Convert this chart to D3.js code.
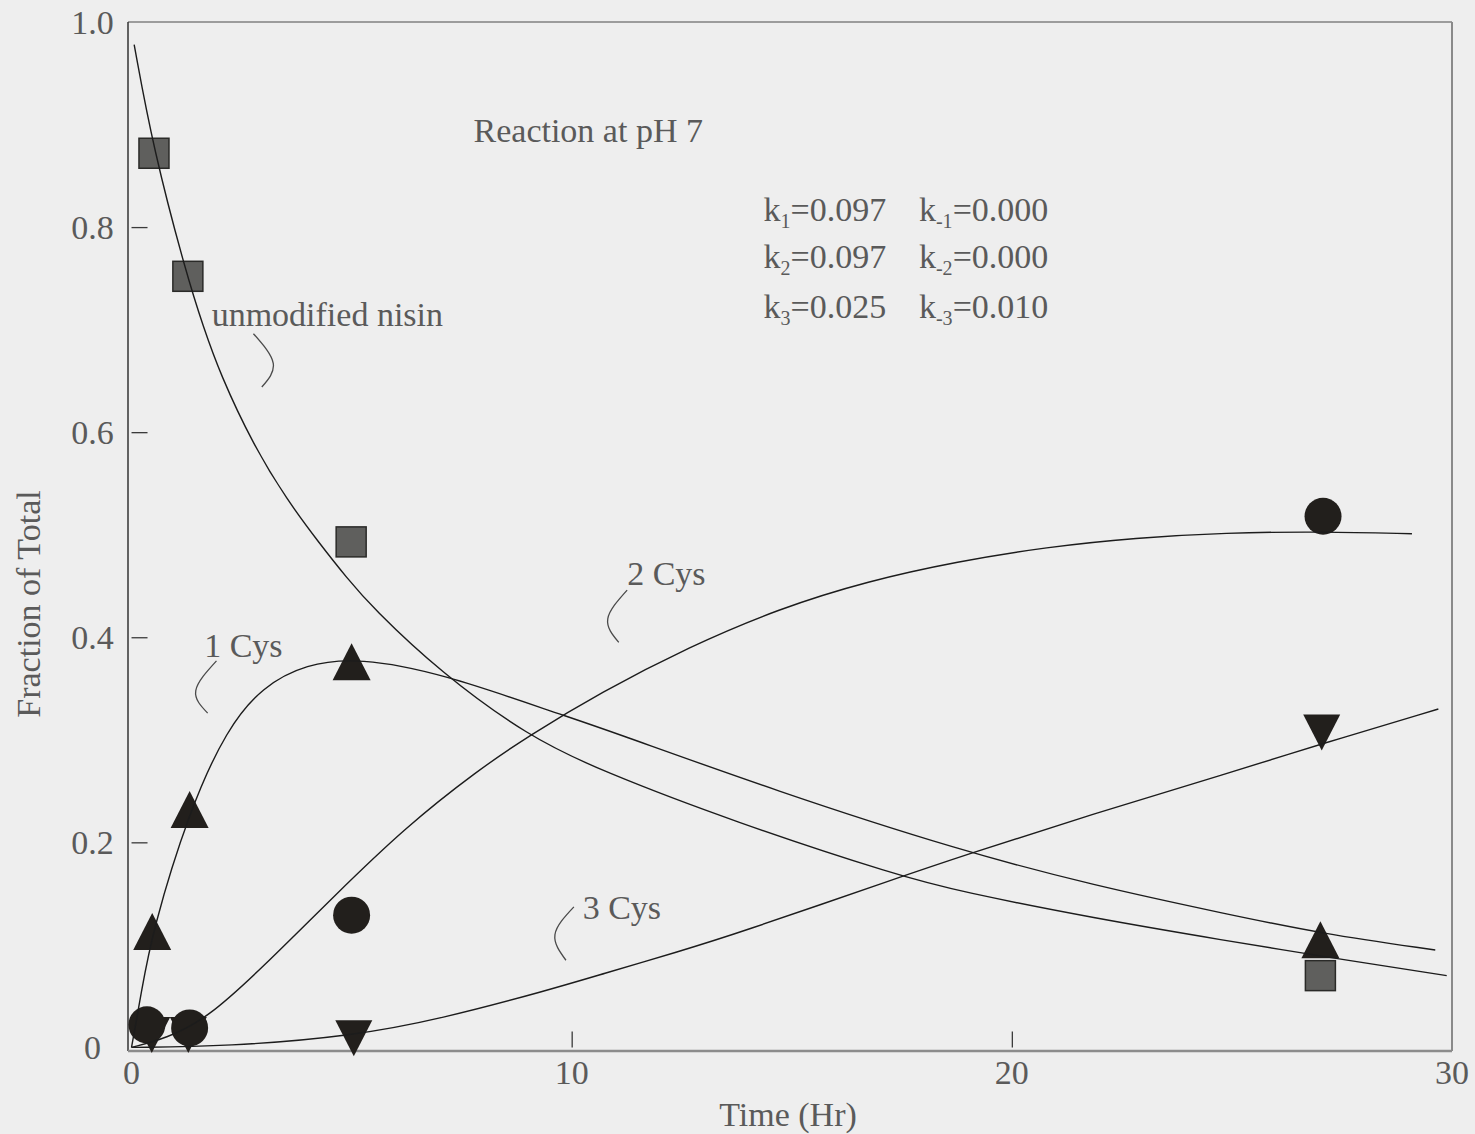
<!DOCTYPE html>
<html>
<head>
<meta charset="utf-8">
<script src="https://cdn.jsdelivr.net/npm/d3@7"></script>
<style>
  html, body { margin: 0; padding: 0; background: #eeeeee; }
  svg { display: block; font-family: "Liberation Serif", "Times New Roman", serif; }
</style>
</head>
<body>
<svg id="chart" width="1475" height="1134"></svg>
<script>
// axis ticks
const xTicks = [0, 10, 20, 30];
const yTicks = [0, 0.2, 0.4, 0.6, 0.8, 1.0];
const yTickLabels = ["0", "0.2", "0.4", "0.6", "0.8", "1.0"];

// fitted model curves
const unmodCurveT = [0.06, 0.49, 1.26, 1.63, 2.01, 2.76, 3.53, 4.28, 4.89, 5.47, 7.04, 9.03, 10.65, 13.69, 17.45, 18.83, 21.86, 24.89, 27.03, 29.88];
const unmodCurveV = [0.978, 0.877, 0.752, 0.703, 0.657, 0.588, 0.534, 0.491, 0.458, 0.429, 0.365, 0.303, 0.270, 0.220, 0.167, 0.152, 0.126, 0.104, 0.089, 0.070];

const cys1CurveT = [0.0, 0.22, 0.47, 1.32, 2.17, 2.98, 3.96, 5.17, 7.04, 9.72, 10.65, 14.71, 18.83, 21.86, 24.89, 27.03, 29.62];
const cys1CurveV = [0.0, 0.053, 0.113, 0.232, 0.311, 0.352, 0.374, 0.380, 0.365, 0.325, 0.312, 0.249, 0.192, 0.158, 0.130, 0.111, 0.095];

const cys2CurveT = [0.0, 0.80, 1.71, 2.98, 4.61, 6.23, 7.86, 9.03, 10.65, 12.68, 14.71, 16.74, 18.77, 20.79, 22.82, 24.85, 27.05, 29.09];
const cys2CurveV = [0.0, 0.009, 0.028, 0.078, 0.148, 0.215, 0.270, 0.304, 0.346, 0.391, 0.428, 0.455, 0.474, 0.488, 0.497, 0.502, 0.503, 0.501];

const cys3CurveT = [0.0, 2.17, 5.01, 7.04, 9.48, 10.65, 12.47, 13.69, 17.45, 18.83, 21.86, 24.89, 27.03, 29.69];
const cys3CurveV = [0.0, 0.001, 0.011, 0.028, 0.056, 0.071, 0.094, 0.110, 0.166, 0.186, 0.228, 0.267, 0.296, 0.330];

// measured points
const unmodPtsT = [0.51, 1.28, 4.99, 27.01];
const unmodPtsV = [0.872, 0.752, 0.493, 0.070];
const cys1PtsT = [0.47, 1.32, 5.00, 27.01];
const cys1PtsV = [0.113, 0.232, 0.376, 0.105];
const cys2PtsT = [0.35, 1.32, 5.00, 27.07];
const cys2PtsV = [0.022, 0.019, 0.129, 0.518];
const cys3PtsT = [0.46, 1.29, 5.05, 27.04];
const cys3PtsV = [0.012, 0.012, 0.009, 0.307];

// rate constants
const rateNames = [["1", "-1"], ["2", "-2"], ["3", "-3"]];
const rateFwd = ["0.097", "0.097", "0.025"];
const rateRev = ["0.000", "0.000", "0.010"];

const svg = d3.select("#chart");

const x = d3.scaleLinear().domain([-0.08, 30]).range([128, 1452]);
const y = d3.scaleLinear().domain([-0.0035, 1]).range([1051, 22]);

const textColor = "#5a5a5a";
const markColor = "#221f1c";

const zip = (ts, vs) => ts.map((t, i) => [t, vs[i]]);

// frame
const [x0, x1] = x.range();
const [yb, yt] = y.range();
svg.append("line").attr("x1", x0).attr("x2", x1).attr("y1", yt).attr("y2", yt)
  .attr("stroke", "#4a4a4a").attr("stroke-width", 1.2);
svg.append("line").attr("x1", x1).attr("x2", x1).attr("y1", yt).attr("y2", yb)
  .attr("stroke", "#8a8a8a").attr("stroke-width", 2);
svg.append("line").attr("x1", x0).attr("x2", x0).attr("y1", yt).attr("y2", yb)
  .attr("stroke", "#333").attr("stroke-width", 1.5);
svg.append("line").attr("x1", x0).attr("x2", x1).attr("y1", yb).attr("y2", yb)
  .attr("stroke", "#8c8c8c").attr("stroke-width", 2.5);

// inward ticks starting from the data origin
const yAxis = svg.append("g")
  .attr("transform", `translate(${x(0)},0)`)
  .call(d3.axisRight(y).tickValues(yTicks.filter(v => v > 0 && v < 1)).tickSize(16).tickFormat(""));
yAxis.select(".domain").remove();
yAxis.selectAll(".tick line").attr("stroke", "#3a3a3a").attr("stroke-width", 1.3);

const xAxis = svg.append("g")
  .attr("transform", `translate(0,${y(0)})`)
  .call(d3.axisTop(x).tickValues(xTicks.filter(v => v > 0 && v < 30)).tickSize(16).tickFormat(""));
xAxis.select(".domain").remove();
xAxis.selectAll(".tick line").attr("stroke", "#3a3a3a").attr("stroke-width", 1.3);

// tick labels
svg.append("g").selectAll("text")
  .data(yTicks)
  .join("text")
  .attr("x", x(0) - 39)
  .attr("y", d => y(d))
  .attr("dy", "0.35em")
  .attr("text-anchor", "middle")
  .attr("font-size", 34)
  .attr("fill", textColor)
  .text((d, i) => yTickLabels[i]);

svg.append("g").selectAll("text")
  .data(xTicks)
  .join("text")
  .attr("x", d => x(d))
  .attr("y", 1084)
  .attr("text-anchor", "middle")
  .attr("font-size", 34)
  .attr("fill", textColor)
  .text(d => d);

// axis titles
svg.append("text")
  .attr("x", (x0 + x1) / 2 - 2)
  .attr("y", 1126)
  .attr("text-anchor", "middle")
  .attr("font-size", 34)
  .attr("fill", textColor)
  .text("Time (Hr)");

svg.append("text")
  .attr("transform", "translate(40,604) rotate(-90)")
  .attr("text-anchor", "middle")
  .attr("font-size", 34)
  .attr("fill", textColor)
  .text("Fraction of Total");

// markers
const marks = svg.append("g");
const triPath = (cx, cy, w, h, up) => {
  const a = up ? cy - h / 2 : cy + h / 2;
  const b = up ? cy + h / 2 : cy - h / 2;
  return `M${cx},${a}L${cx + w / 2},${b}L${cx - w / 2},${b}Z`;
};

marks.selectAll("rect.sq")
  .data(zip(unmodPtsT, unmodPtsV))
  .join("rect")
  .attr("class", "sq")
  .attr("x", d => x(d[0]) - 15)
  .attr("y", d => y(d[1]) - 15)
  .attr("width", 30)
  .attr("height", 30)
  .attr("fill", "#5f5f5d")
  .attr("stroke", "#2a2a28")
  .attr("stroke-width", 1.5);

marks.selectAll("path.up")
  .data(zip(cys1PtsT, cys1PtsV))
  .join("path")
  .attr("class", "up")
  .attr("d", d => triPath(x(d[0]), y(d[1]), 38, 37, true))
  .attr("fill", markColor);

marks.selectAll("path.dn")
  .data(zip(cys3PtsT, cys3PtsV))
  .join("path")
  .attr("class", "dn")
  .attr("d", d => triPath(x(d[0]), y(d[1]), 37, 36, false))
  .attr("fill", markColor);

marks.selectAll("circle")
  .data(zip(cys2PtsT, cys2PtsV))
  .join("circle")
  .attr("cx", d => x(d[0]))
  .attr("cy", d => y(d[1]))
  .attr("r", 18.5)
  .attr("fill", markColor);

// model curves, smoothed through the read-off points
const line = d3.line()
  .x(d => x(d[0]))
  .y(d => y(d[1]))
  .curve(d3.curveBasis);

const curves = [
  zip(unmodCurveT, unmodCurveV),
  zip(cys1CurveT, cys1CurveV),
  zip(cys2CurveT, cys2CurveV),
  zip(cys3CurveT, cys3CurveV)
];
svg.append("g").selectAll("path")
  .data(curves)
  .join("path")
  .attr("d", line)
  .attr("fill", "none")
  .attr("stroke", "#1c1c1c")
  .attr("stroke-width", 1.4);

// labels with leader brackets
const seriesLabels = [
  { text: "unmodified nisin", t: 1.82, v: 0.704, bracket: [[2.77, 0.696], [3.22, 0.667], [2.96, 0.644]] },
  { text: "1 Cys", t: 1.65, v: 0.381, bracket: [[1.93, 0.377], [1.46, 0.348], [1.73, 0.326]] },
  { text: "2 Cys", t: 11.26, v: 0.451, bracket: [[11.26, 0.446], [10.82, 0.418], [11.07, 0.395]] },
  { text: "3 Cys", t: 10.25, v: 0.125, bracket: [[10.05, 0.137], [9.62, 0.110], [9.87, 0.085]] }
];
const bracketLine = d3.line()
  .x(d => x(d[0]))
  .y(d => y(d[1]))
  .curve(d3.curveNatural);

const lab = svg.append("g");
lab.selectAll("text")
  .data(seriesLabels)
  .join("text")
  .attr("x", d => x(d.t))
  .attr("y", d => y(d.v))
  .attr("font-size", 34)
  .attr("fill", textColor)
  .text(d => d.text);
lab.selectAll("path")
  .data(seriesLabels)
  .join("path")
  .attr("d", d => bracketLine(d.bracket))
  .attr("fill", "none")
  .attr("stroke", "#4a4a4a")
  .attr("stroke-width", 1.3);

svg.append("text")
  .attr("x", x(7.77))
  .attr("y", y(0.883))
  .attr("font-size", 34)
  .attr("fill", textColor)
  .text("Reaction at pH 7");

// rate constant block
const rowV = [0.806, 0.760, 0.711];
const colT = [14.36, 17.89];
rateNames.forEach((names, i) => {
  [rateFwd[i], rateRev[i]].forEach((val, j) => {
    const t = svg.append("text")
      .attr("x", x(colT[j]))
      .attr("y", y(rowV[i]))
      .attr("font-size", 34)
      .attr("fill", textColor);
    t.append("tspan").text("k");
    t.append("tspan").attr("font-size", 20).attr("dy", 7).text(names[j]);
    t.append("tspan").attr("dy", -7).text("=" + val);
  });
});
</script>
</body>
</html>
